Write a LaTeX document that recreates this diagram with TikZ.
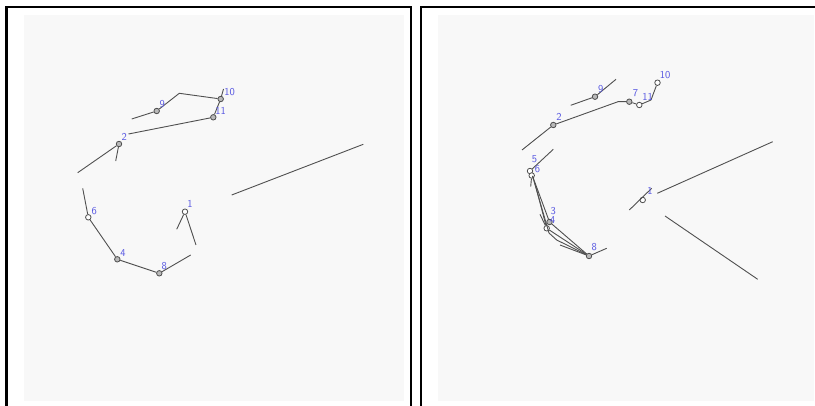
\documentclass[tikz,border=0pt]{standalone}
\usetikzlibrary{calc}
\definecolor{panelbg}{RGB}{248,248,248}
\definecolor{linecol}{RGB}{80,80,80}
\definecolor{labcol}{RGB}{85,85,225}
\begin{document}
\begin{tikzpicture}[x=1pt,y=-1pt,
  seg/.style={draw=linecol,line width=0.9pt},
  pt/.style={circle,draw=linecol,line width=0.8pt,inner sep=0pt,minimum size=5.5pt,fill=white},
  ptf/.style={pt,fill=gray!55},
  lab/.style={text=labcol,inner sep=0pt,font=\fontsize{10.5}{11}\sffamily},
  frame/.style={draw=black,line width=2.6pt}]
\useasboundingbox (0,0) rectangle (815,406);
\clip (0,0) rectangle (815,406);
\fill[white] (0,0) rectangle (815,406);
% panels
\fill[panelbg] (24,15) rectangle (404,401);
\fill[panelbg] (438,15) rectangle (814,401);
\draw[frame] (6.5,420) -- (6.5,7) -- (411,7) -- (411,420);
\draw[frame] (421,420) -- (421,7) -- (830,7);

% ---------- left panel ----------
\coordinate (la1) at (131.7,119);
\coordinate (la2) at (179.3,93.3);
\coordinate (la3) at (223.5,89);
\coordinate (la4) at (77.7,172.7);
\coordinate (la5) at (115.7,161);
\coordinate (la6) at (82.7,188.3);
\coordinate (la7) at (190.7,255);
\coordinate (la8) at (176.7,229.3);
\coordinate (la9) at (196,245);
\coordinate (la10) at (231.7,195);
\coordinate (la11) at (363.3,144.3);
\coordinate (la12) at (128.5,134);
\node[ptf] (L9) at (156.7,111) {};
\node[ptf] (L10) at (220.7,99) {};
\node[ptf] (L11) at (213.3,117.3) {};
\node[ptf] (L2) at (119,144) {};
\node[pt] (L6) at (88.3,217.3) {};
\node[ptf] (L4) at (117.3,259.3) {};
\node[ptf] (L8) at (159.3,273.3) {};
\node[pt] (L1) at (185,211.7) {};
\draw[seg] (la1) -- (L9) -- (la2) -- (L10) -- (la3);
\draw[seg] (L10) -- (L11) -- (la12);
\draw[seg] (L2) -- (la4);
\draw[seg] (L2) -- (la5);
\draw[seg] (la6) -- (L6) -- (L4) -- (L8) -- (la7);
\draw[seg] (L1) -- (la8);
\draw[seg] (L1) -- (la9);
\draw[seg] (la10) -- (la11);
\node[lab] (tL9) at (162.3,104) {9};
\node[lab] (tL10) at (229.5,92) {10};
\node[lab] (tL11) at (220.5,111) {11};
\node[lab] (tL2) at (124.3,136.5) {2};
\node[lab] (tL6) at (94.3,210.7) {6};
\node[lab] (tL4) at (123,252.7) {4};
\node[lab] (tL8) at (164.3,265.7) {8};
\node[lab] (tL1) at (190,204) {1};

% ---------- right panel ----------
\coordinate (ra1) at (570.7,105.3);
\coordinate (ra2) at (616,79.3);
\coordinate (ra3) at (522,150);
\coordinate (ra4) at (618,101.7);
\coordinate (ra5) at (651,100);
\coordinate (ra6) at (553.3,149.3);
\coordinate (ra7) at (530.7,186.7);
\coordinate (ra8) at (532.5,176);
\coordinate (ra9) at (535,183.5);
\coordinate (ra10) at (556.7,240);
\coordinate (ra11) at (560,245);
\coordinate (ra12) at (540,214.3);
\coordinate (ra13) at (606.7,248.3);
\coordinate (ra14) at (629.3,210);
\coordinate (ra15) at (651.7,188.3);
\coordinate (ra16) at (657.3,193.3);
\coordinate (ra17) at (772.7,141.7);
\coordinate (ra18) at (665,216);
\coordinate (ra19) at (757.7,279.3);
\coordinate (ra20) at (549,233);
\node[ptf] (R9) at (595,96.7) {};
\node[ptf] (R2) at (553.3,125) {};
\node[ptf] (R7) at (629.3,101.7) {};
\node[pt] (R11) at (639.3,105) {};
\node[pt] (R10) at (657.5,82.7) {};
\node[pt] (R5) at (530,171) {};
\node[pt] (R6) at (531.7,175.5) {};
\node[ptf] (R3) at (549.5,222) {};
\node[pt] (R4) at (546.7,228.3) {};
\node[ptf] (R8) at (589,256) {};
\node[pt] (R1) at (642.7,200) {};
\draw[seg] (ra1) -- (R9) -- (ra2);
\draw[seg] (ra3) -- (R2) -- (ra4) -- (R7) -- (R11);
\draw[seg] (R11) -- (ra5) -- (R10);
\draw[seg] (R5) -- (ra6);
\draw[seg] (R6) -- (ra7);
\draw[seg] (ra8) -- (R3);
\draw[seg] (ra9) -- (R4);
\draw[seg] (ra8) -- (ra20) -- (ra10) -- (R8);
\draw[seg] (R4) -- (R8);
\draw[seg] (R3) -- (R8);
\draw[seg] (ra11) -- (R8) -- (ra13);
\draw[seg] (ra12) -- (R4);
\draw[seg] (ra14) -- (ra15);
\draw[seg] (ra16) -- (ra17);
\draw[seg] (ra18) -- (ra19);
\node[lab] (tR9) at (600.7,89) {9};
\node[lab] (tR2) at (559,117.3) {2};
\node[lab] (tR7) at (635.5,93.5) {7};
\node[lab] (tR11) at (647.5,97) {11};
\node[lab] (tR10) at (665,75.5) {10};
\node[lab] (tR5) at (534.5,158.8) {5};
\node[lab] (tR6) at (537.5,169.5) {6};
\node[lab] (tR3) at (553.3,211.5) {3};
\node[lab] (tR4) at (552.7,220.5) {4};
\node[lab] (tR8) at (594.3,247.3) {8};
\node[lab] (tR1) at (650,191) {1};
\end{tikzpicture}
\end{document}
